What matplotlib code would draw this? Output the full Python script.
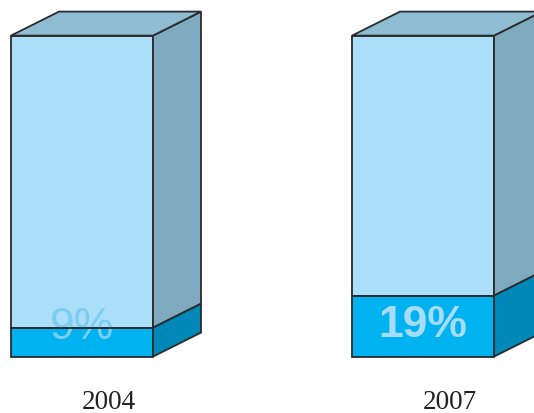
import matplotlib.pyplot as plt
from matplotlib.patches import Polygon

years = ['2004', '2007']
values = [9, 19]

# colours
front_top = '#abdff9'
top_face = '#8ebdd3'
side_top = '#7fa9bf'
front_low = '#00b2ef'
side_low = '#0088b8'
edge = '#2b2b2b'

fig = plt.figure(figsize=(5.34, 4.14), dpi=100)
ax = fig.add_axes([0, 0, 1, 1])
# x in pixels, y in percent (0 at bar base, 100 at bar top)
px = 3.21
ax.set_xlim(0, 534)
ax.set_ylim(-(414 - 357.6) / px, 100 + 36.6 / px)
ax.axis('off')

w = 142
dx = 48
dy = 24 / px
step = 341

def box(x0, y0, y1, cf, cs, ct=None):
    ax.add_patch(Polygon([(x0, y0), (x0 + w, y0), (x0 + w, y1), (x0, y1)],
                         closed=True, fc=cf, ec=edge, lw=1.3, joinstyle='miter'))
    ax.add_patch(Polygon([(x0 + w, y0), (x0 + w + dx, y0 + dy), (x0 + w + dx, y1 + dy), (x0 + w, y1)],
                         closed=True, fc=cs, ec=edge, lw=1.3, joinstyle='miter'))
    if ct:
        ax.add_patch(Polygon([(x0, y1), (x0 + w, y1), (x0 + w + dx, y1 + dy), (x0 + dx, y1 + dy)],
                             closed=True, fc=ct, ec=edge, lw=1.3, joinstyle='miter'))

for i, (yr, v) in enumerate(zip(years, values)):
    x0 = 11 + i * step
    box(x0, v, 100, front_top, side_top, top_face)
    box(x0, 0, v, front_low, side_low)
    ax.text(x0 + w / 2, v / 2 + 0.6 if i else 9.3, f'{v}%', ha='center', va='center',
            fontsize=32, fontweight='bold' if i else 'normal', family='Liberation Sans',
            color='#7ccdf4' if i == 0 else '#a6dcf5', zorder=3)
    # segment edge drawn over the label
    ax.plot([x0, x0 + w], [v, v], color=edge, lw=1.3, zorder=4)
    ax.text(x0 + w / 2 + 27, -(402 - 357) / px, yr, ha='center', va='center',
            fontsize=19.5, family='Liberation Serif', color='#222222')

fig.savefig('out.png', dpi=100)
